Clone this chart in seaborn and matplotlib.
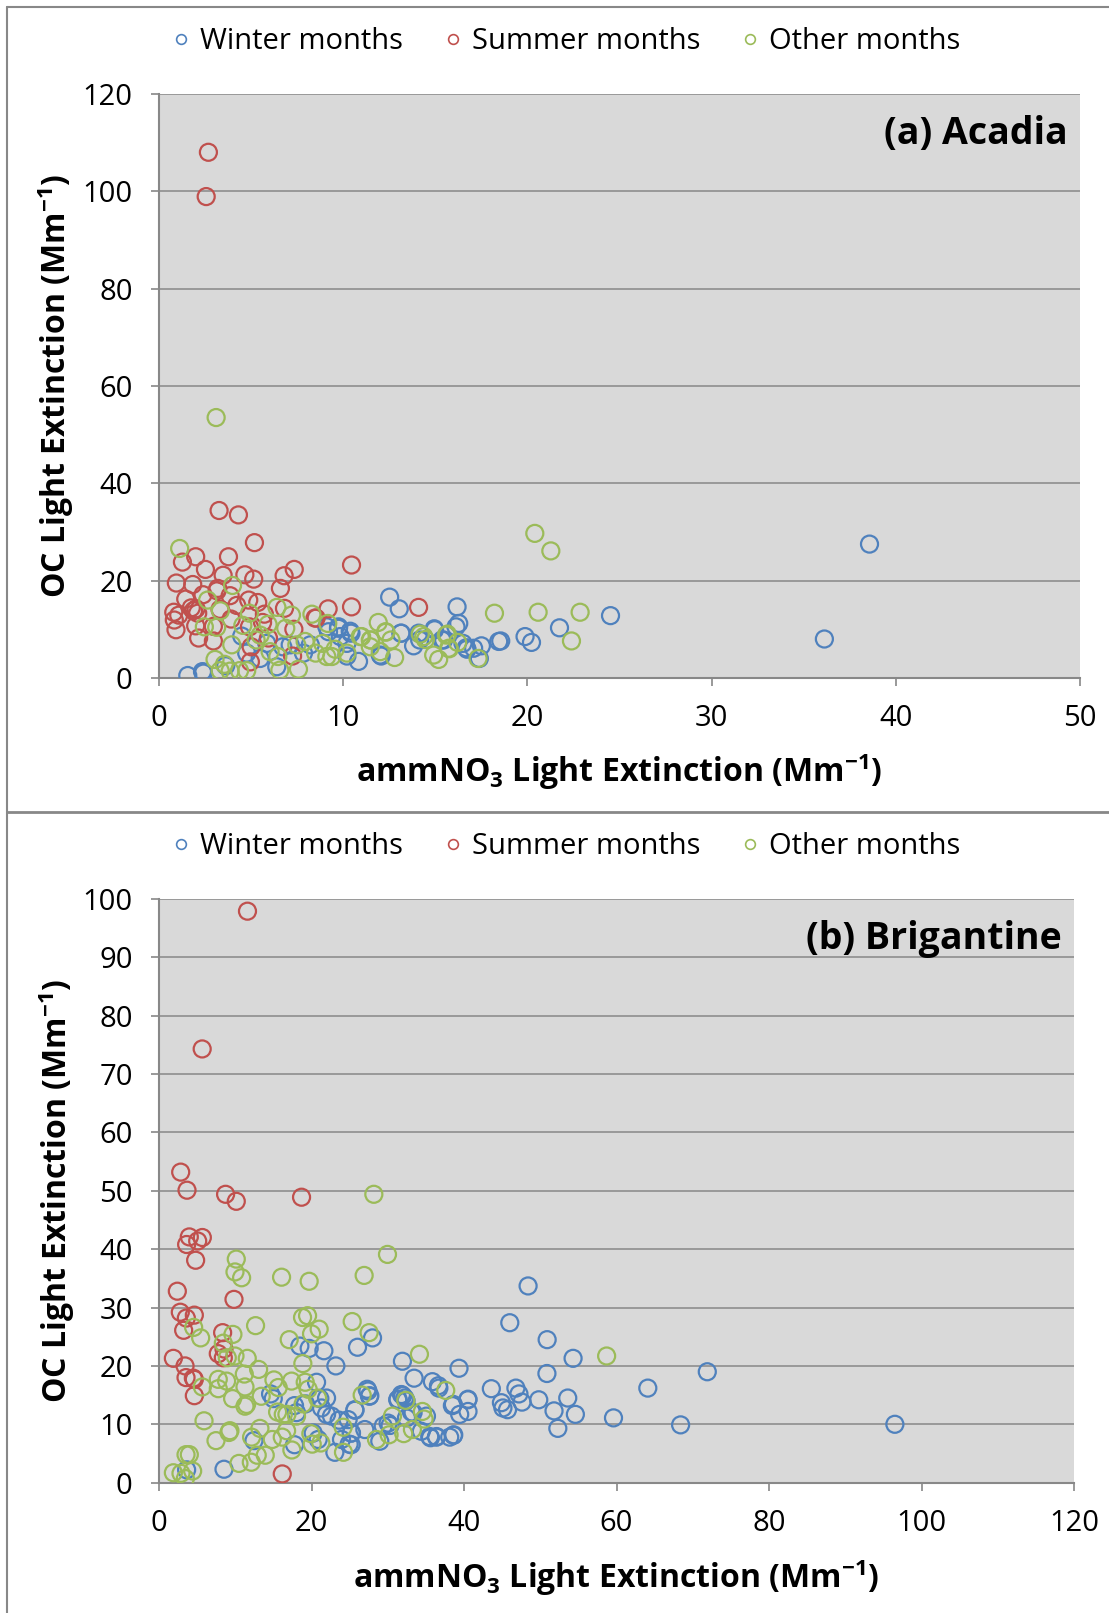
import pandas as pd
import matplotlib.pyplot as plt
from matplotlib.lines import Line2D
import seaborn as sns

sns.set_theme(style="white")
plt.rcParams["font.family"] = ["Open Sans", "DejaVu Sans"]
plt.rcParams["mathtext.fontset"] = "custom"
plt.rcParams["mathtext.rm"] = "Open Sans"
plt.rcParams["mathtext.bf"] = "Open Sans:bold"
plt.rcParams["text.color"] = "black"
plt.rcParams["axes.labelcolor"] = "black"
plt.rcParams["xtick.color"] = "black"
plt.rcParams["ytick.color"] = "black"

# (a) Acadia
acadia_winter_x = [1.56, 2.36, 2.41, 12.52, 13.04, 16.18, 3.62, 4.49, 4.76, 5.85, 6.39, 7.12, 7.84, 9.11,
                   9.2, 9.75, 10.42, 9.84, 10.2, 10.83, 12.06, 13.13, 13.82, 14.15, 14.94, 15.45, 16.12,
                   16.27, 16.5, 16.72, 17.08, 17.5, 17.39, 18.44, 5.49, 8.21, 6.72, 21.74, 19.87, 20.22,
                   18.55, 16.68, 15.36, 14.1, 13.15, 12.01, 9.74, 10.38, 10.2, 24.51, 38.57, 36.12, 14.96]
acadia_winter_y = [0.5, 1.3, 1.0, 16.6, 14.2, 14.6, 2.5, 8.6, 5.1, 7.1, 2.3, 6.8, 5.1, 10.5,
                   9.5, 10.5, 9.2, 8.5, 7.1, 3.4, 4.5, 9.2, 6.6, 7.8, 10.1, 7.8, 10.5,
                   11.2, 7.1, 5.9, 6.1, 6.6, 4.0, 7.5, 4.0, 6.8, 6.4, 10.3, 8.5, 7.3,
                   7.6, 6.2, 7.8, 9.2, 9.2, 4.7, 10.2, 9.6, 4.5, 12.8, 27.5, 8.0, 9.9]

acadia_summer_x = [2.68, 2.56, 3.26, 4.31, 5.18, 3.77, 1.99, 1.27, 2.52, 3.48, 4.66, 5.14, 7.34, 6.79,
                   6.59, 10.45, 0.94, 1.83, 3.19, 3.86, 2.39, 1.45, 4.87, 5.36, 4.22, 2.01, 1.87, 0.80,
                   1.07, 0.83, 0.92, 3.15, 9.18, 10.45, 14.09, 6.81, 5.72, 8.53, 1.99, 2.95, 2.15, 2.95,
                   3.91, 4.91, 5.62, 7.32, 4.96, 7.25, 5.0, 5.94, 3.31, 8.47, 1.75, 2.1]
acadia_summer_y = [108.0, 98.9, 34.4, 33.5, 27.8, 24.9, 24.9, 23.8, 22.3, 21.1, 21.2, 20.3, 22.3, 21.0,
                   18.4, 23.2, 19.5, 19.2, 18.4, 16.9, 17.1, 16.2, 16.0, 15.5, 14.9, 14.2, 13.8, 13.5,
                   12.9, 11.9, 9.9, 17.9, 14.2, 14.6, 14.5, 14.3, 13.1, 12.3, 10.7, 10.6, 8.2, 7.6,
                   12.1, 10.5, 11.4, 10.0, 3.3, 4.5, 6.4, 8.2, 14.1, 12.3, 14.4, 13.3]

acadia_other_x = [3.10, 1.12, 3.99, 2.64, 3.33, 4.91, 6.40, 7.19, 8.30, 9.16, 11.90, 2.46, 3.13, 4.55,
                  5.92, 6.88, 3.95, 3.04, 3.55, 3.32, 3.86, 4.37, 4.76, 5.49, 5.27, 6.03, 6.45, 6.56,
                  7.57, 7.93, 8.88, 9.38, 10.2, 11.0, 11.47, 11.47, 12.32, 12.79, 12.59, 12.01, 14.18,
                  14.46, 14.91, 15.18, 15.6, 15.76, 16.21, 17.32, 18.21, 9.56, 8.5, 7.48, 20.4, 21.27,
                  20.58, 22.86, 22.39, 12.3, 10.92, 11.5, 14.37, 15.65, 15.72, 9.11]
acadia_other_y = [53.5, 26.6, 19.0, 16.0, 13.8, 13.3, 14.5, 12.9, 13.1, 11.2, 11.4, 10.5, 10.4, 10.8,
                  11.0, 10.2, 6.8, 3.8, 2.8, 1.5, 1.4, 1.5, 1.5, 8.8, 7.8, 5.4, 4.4, 1.6,
                  1.8, 7.5, 7.1, 4.4, 5.1, 8.5, 7.8, 6.4, 9.4, 4.2, 7.8, 5.4, 9.0,
                  7.9, 4.7, 3.8, 8.8, 6.0, 7.3, 4.0, 13.3, 5.9, 5.1, 6.8, 29.7, 26.1,
                  13.5, 13.5, 7.6, 9.5, 8.5, 7.8, 8.5, 9.0, 6.1, 4.4]

# (b) Brigantine
brig_winter_x = [3.62, 8.52, 12.45, 17.77, 18.47, 19.69, 21.62, 23.19, 26.03, 28.0, 31.92, 39.34, 33.45,
                 20.66, 35.85, 36.64, 43.58, 14.63, 14.98, 17.77, 19.21, 21.09, 21.97, 21.31, 18.03,
                 21.97, 22.62, 23.62, 24.8, 25.68, 27.3, 27.64, 31.79, 32.23, 31.35, 33.32, 35.07,
                 32.45, 30.04, 29.4, 38.47, 40.52, 40.52, 39.43, 26.99, 28.95, 35.5, 36.38, 38.12,
                 38.65, 20.22, 20.87, 24.93, 23.06, 25.24, 23.93, 48.4, 46.0, 50.9, 54.3, 50.87, 64.1,
                 68.4, 59.6, 52.3, 54.6, 53.6, 51.8, 49.8, 47.6, 47.2, 46.8, 45.7, 45.1, 44.9, 40.5,
                 38.6, 38.6, 36.4, 35.6, 36.7, 27.4, 27.6, 25.7, 25.2, 25.2, 31.97, 32.4, 33.1, 34.4,
                 30.3, 71.9, 96.5, 31.3]
brig_winter_y = [2.2, 2.3, 7.2, 6.5, 23.4, 23.0, 22.6, 20.0, 23.2, 24.8, 20.8, 19.6, 17.9,
                 17.2, 17.3, 16.6, 16.1, 15.2, 14.4, 13.2, 13.5, 14.4, 14.5, 12.8, 12.0,
                 11.7, 11.4, 10.7, 10.8, 12.5, 16.0, 14.9, 15.1, 14.5, 14.3, 12.0, 11.4,
                 11.1, 10.2, 9.7, 13.2, 14.3, 12.2, 11.7, 9.1, 7.1, 7.9, 7.8, 7.8,
                 8.2, 8.5, 7.4, 6.6, 5.2, 8.5, 7.4, 33.7, 27.4, 24.5, 21.3, 18.7, 16.2,
                 9.9, 11.1, 9.3, 11.7, 14.5, 12.3, 14.2, 13.8, 15.2, 16.2, 12.5, 12.8, 13.7, 14.2,
                 13.4, 8.1, 7.9, 7.7, 16.2, 15.7, 14.8, 12.4, 8.5, 6.5, 14.9, 14.0, 12.1, 8.8,
                 9.8, 19.0, 10.0, 14.2]

brig_summer_x = [11.6, 5.66, 2.84, 3.67, 8.73, 10.13, 18.69, 3.97, 3.62, 5.07, 5.68, 4.80, 2.4, 9.83,
                 2.79, 3.58, 4.63, 3.23, 8.34, 8.52, 7.77, 8.43, 1.88, 3.41, 3.54, 4.5, 4.63, 4.63, 16.16]
brig_summer_y = [97.9, 74.3, 53.2, 50.1, 49.4, 48.2, 48.9, 42.1, 40.8, 41.4, 42.0, 38.1, 32.8, 31.4,
                 29.2, 28.2, 28.7, 26.1, 25.7, 22.9, 22.1, 21.4, 21.3, 20.0, 18.0, 17.9, 17.7, 14.9, 1.5]

brig_other_x = [28.17, 29.96, 10.13, 9.96, 10.83, 16.07, 19.69, 26.9, 18.82, 19.48, 12.66, 21.0, 20.0,
                25.33, 27.55, 4.54, 5.46, 9.69, 8.43, 17.07, 8.95, 9.96, 11.57, 18.86, 13.06, 34.15,
                5.68, 7.77, 7.77, 8.86, 9.65, 11.18, 11.27, 11.27, 11.48, 15.07, 15.63, 17.38, 19.17,
                19.56, 13.4, 20.79, 18.9, 15.55, 16.29, 16.77, 18.03, 5.9, 7.47, 9.17, 9.3, 13.23,
                12.14, 14.85, 16.16, 16.73, 17.42, 19.91, 20.09, 21.22, 24.15, 24.19, 10.48, 12.1,
                12.88, 13.93, 3.54, 3.97, 1.88, 2.88, 3.45, 4.41, 26.64, 28.52, 30.17, 30.61, 32.09,
                32.36, 33.23, 34.54, 34.76, 37.6, 58.7]
brig_other_y = [49.4, 39.1, 38.3, 36.1, 35.1, 35.2, 34.5, 35.5, 28.3, 28.6, 26.9, 26.3, 25.5,
                27.6, 25.7, 26.6, 24.8, 25.4, 23.9, 24.5, 21.4, 21.7, 21.3, 20.4, 19.4, 22.0,
                16.4, 17.7, 16.1, 17.4, 14.4, 18.6, 16.4, 13.1, 13.4, 17.6, 16.3, 17.4, 17.2,
                16.0, 14.8, 14.5, 13.5, 12.1, 11.7, 11.7, 11.4, 10.6, 7.2, 8.6, 8.9, 9.3,
                7.8, 7.4, 7.8, 8.9, 5.6, 8.4, 6.6, 6.8, 9.5, 5.2, 3.3, 3.5,
                4.7, 4.7, 4.8, 4.8, 1.7, 1.6, 0.7, 2.0, 15.0, 7.4, 8.2, 11.4, 8.4,
                14.1, 9.1, 12.2, 10.9, 15.8, 21.7]

seasons = ["Winter months", "Summer months", "Other months"]
palette = {"Winter months": "#4F81BD", "Summer months": "#C0504D", "Other months": "#9BBB59"}
grey = "#888888"


def make_df(wx, wy, sx, sy, ox, oy):
    parts = []
    for name, xs, ys in zip(seasons, [wx, sx, ox], [wy, sy, oy]):
        parts.append(pd.DataFrame({"x": xs, "y": ys, "season": name}))
    return pd.concat(parts, ignore_index=True)


def draw_panel(ax, df, xmax, xstep, ymax, ystep, title, leg_x, xlab_y):
    ax.set_facecolor("#D9D9D9")
    sns.scatterplot(data=df, x="x", y="y", hue="season", hue_order=seasons, palette=palette,
                    s=150, linewidth=1.6, legend=False, ax=ax, zorder=3)
    coll = ax.collections[-1]
    coll.set_edgecolors(coll.get_facecolors())
    coll.set_facecolors("none")
    ax.set_xlim(0, xmax)
    ax.set_ylim(0, ymax)
    ax.set_xticks(range(0, xmax + 1, xstep))
    ax.set_yticks(range(0, ymax + 1, ystep))
    ax.yaxis.grid(True, color=grey, linewidth=1.1)
    ax.set_axisbelow(True)
    for side in ["top", "right"]:
        ax.spines[side].set_visible(False)
    for side in ["left", "bottom"]:
        ax.spines[side].set_color(grey)
        ax.spines[side].set_linewidth(1.5)
    ax.tick_params(axis="both", direction="out", length=6, width=1.2, color=grey,
                   labelsize=21, pad=13, bottom=True, left=True)
    ax.set_xlabel(r"ammNO$_{\mathbf{3}}$ Light Extinction (Mm$^{\mathbf{-1}}$)",
                  fontsize=23, fontweight="bold")
    ax.set_ylabel(r"OC Light Extinction (Mm$^{\mathbf{-1}}$)", fontsize=23, fontweight="bold")
    ax.yaxis.set_label_coords(-0.09, 0.5)
    ax.xaxis.set_label_coords(0.5, xlab_y)
    ax.text(0.987, 0.932, title, transform=ax.transAxes, ha="right", va="center",
            fontsize=27, fontweight="bold")
    handles = [Line2D([], [], marker="o", linestyle="none", markersize=7, markerfacecolor="none",
                      markeredgecolor=palette[s], markeredgewidth=1.2, label=s) for s in seasons]
    ax.legend(handles=handles, loc="center", bbox_to_anchor=(leg_x, 1.09), ncol=3, frameon=False,
              fontsize=21, handlelength=0.6, handletextpad=0.35, columnspacing=1.4)


fig = plt.figure(figsize=(11.09, 16.13), dpi=100)
ax1 = fig.add_axes([0.1434, 0.5797, 0.8305, 0.3621])
ax2 = fig.add_axes([0.1434, 0.0808, 0.8251, 0.3619])

df_a = make_df(acadia_winter_x, acadia_winter_y, acadia_summer_x, acadia_summer_y,
               acadia_other_x, acadia_other_y)
df_b = make_df(brig_winter_x, brig_winter_y, brig_summer_x, brig_summer_y,
               brig_other_x, brig_other_y)

draw_panel(ax1, df_a, 50, 10, 120, 20, "(a) Acadia", 0.442, -0.125)
draw_panel(ax2, df_b, 120, 20, 100, 10, "(b) Brigantine", 0.445, -0.128)

# chart frames
bx = 7 / 1109
fig.add_artist(Line2D([bx, bx], [0, 1 - 7 / 1613], color=grey, linewidth=1.5))
fig.add_artist(Line2D([bx, 1], [1 - 7 / 1613, 1 - 7 / 1613], color=grey, linewidth=1.5))
fig.add_artist(Line2D([bx, 1], [1 - 812 / 1613, 1 - 812 / 1613], color=grey, linewidth=2))

fig.savefig("out.png", dpi=100, facecolor="white")
